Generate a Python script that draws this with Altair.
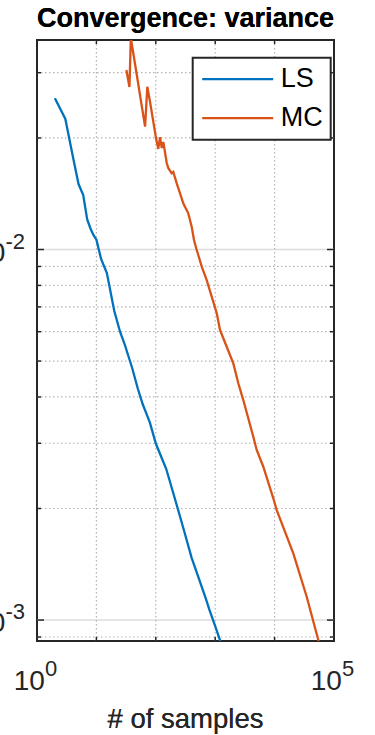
import altair as alt
import pandas as pd

# ---- data ---------------------------------------------------------------
ls_n = [2, 3, 4, 5, 6, 7, 8, 9, 10, 12, 15, 20, 25, 30, 40, 50, 60, 70, 80,
        100, 120, 150, 200, 250, 300, 400, 500, 600, 700, 800, 1000, 1200, 1500]
ls_var = [0.02559, 0.02250, 0.01788, 0.01502, 0.01403, 0.01205, 0.01136,
          0.01091, 0.01063, 0.009427, 0.008642, 0.006823, 0.005999, 0.005541,
          0.004788, 0.004202, 0.003828, 0.003597, 0.003401, 0.002995, 0.002789,
          0.002556, 0.002182, 0.001927, 0.001739, 0.001474, 0.001331, 0.001224,
          0.001139, 0.001065, 0.0009634, 0.0008847, 0.0007995]

mc_n = [32, 36, 38, 45, 66, 72, 80, 101, 110, 118, 126, 134, 153, 162, 185,
        197, 225, 256, 290, 352, 402, 440, 488, 519, 593, 719, 873, 1060, 1204,
        1562, 2017, 2448, 2972, 4379, 4995, 6454, 9508, 10850, 20640, 34710,
        54410, 70560]
mc_var = [0.03051, 0.02745, 0.0372, 0.03148, 0.02145, 0.02750, 0.02501,
          0.01995, 0.01868, 0.02011, 0.01879, 0.01950, 0.01709, 0.01660,
          0.01606, 0.01619, 0.01509, 0.01418, 0.01332, 0.01252, 0.01152,
          0.01061, 0.009969, 0.009664, 0.008987, 0.008274, 0.007458, 0.006741,
          0.006063, 0.005465, 0.004929, 0.004354, 0.003924, 0.003124, 0.002877,
          0.002593, 0.002131, 0.001981, 0.001514, 0.001156, 0.0008831, 0.0007558]

methods = ["LS", "MC"]
colors = ["#0072BD", "#D95319"]

x_domain = [1, 1e5]
y_domain = [8.78e-4, 0.03676]

x_major = [1, 1e5]
x_minor = [10, 100, 1000, 10000]
y_major = [1e-3, 1e-2]
y_minor = [9e-4, 2e-3, 3e-3, 4e-3, 5e-3, 6e-3, 7e-3, 8e-3, 9e-3, 2e-2, 3e-2]
x_exp = ["0", "5"]
y_exp = ["-3", "-2"]

# ---- layout -------------------------------------------------------------
W, H = 297, 601
FONT = "Liberation Sans"
AX = "#262626"

xs = alt.Scale(type="log", domain=x_domain, nice=False)
ys = alt.Scale(type="log", domain=y_domain, nice=False)

df = pd.concat([
    pd.DataFrame({"method": "LS", "n": ls_n, "v": ls_var}),
    pd.DataFrame({"method": "MC", "n": mc_n, "v": mc_var}),
])
ymaj = pd.DataFrame({"v": y_major, "e": y_exp})
ymin = pd.DataFrame({"v": y_minor})
xmin = pd.DataFrame({"n": x_minor})
xmaj = pd.DataFrame({"n": x_major, "e": x_exp})

X = lambda f: alt.X(f, type="quantitative", scale=xs, axis=None)
Y = lambda f: alt.Y(f, type="quantitative", scale=ys, axis=None)

# grid
grid_major = alt.Chart(ymaj).mark_rule(color="#dcdcdc", strokeWidth=1.5).encode(
    y=Y("v"), x=alt.value(0), x2=alt.value(W))
grid_minor_y = alt.Chart(ymin).mark_rule(
    color="#b4b4b4", strokeWidth=1.2, strokeDash=[1.5, 2.5]).encode(
    y=Y("v"), x=alt.value(0), x2=alt.value(W))
grid_minor_x = alt.Chart(xmin).mark_rule(
    color="#b4b4b4", strokeWidth=1.2, strokeDash=[1.5, 2.5]).encode(
    x=X("n"), y=alt.value(0), y2=alt.value(H))

# curves
lines = alt.Chart(df).mark_line(strokeWidth=2.3, clip=True).encode(
    x=X("n"), y=Y("v"),
    color=alt.Color("method:N",
                    scale=alt.Scale(domain=methods, range=colors),
                    legend=alt.Legend(
                        orient="none", legendX=155.7, legendY=17.7, title=None,
                        symbolType="stroke", symbolSize=5041,
                        symbolStrokeWidth=2.3, labelFontSize=27,
                        labelFont=FONT, labelColor="black", labelOffset=6,
                        clipHeight=27, padding=8, rowPadding=11,
                        fillColor="white", strokeColor=AX)),
)

# inward ticks on all four sides
def yticks(data, length):
    left = alt.Chart(data).mark_rule(color=AX, strokeWidth=1.5).encode(
        y=Y("v"), x=alt.value(0), x2=alt.value(length))
    right = alt.Chart(data).mark_rule(color=AX, strokeWidth=1.5).encode(
        y=Y("v"), x=alt.value(W), x2=alt.value(W - length))
    return left + right

xt_bottom = alt.Chart(xmin).mark_rule(color=AX, strokeWidth=1.5).encode(
    x=X("n"), y=alt.value(H), y2=alt.value(H - 4))
xt_top = alt.Chart(xmin).mark_rule(color=AX, strokeWidth=1.5).encode(
    x=X("n"), y=alt.value(0), y2=alt.value(4))

# tick labels: 10 with superscript exponent
xl_base = alt.Chart(xmaj).mark_text(
    text="10", font=FONT, fontSize=28, color=AX, align="left",
    baseline="alphabetic", dx=-23.3).encode(x=X("n"), y=alt.value(H + 49))
xl_exp = alt.Chart(xmaj).mark_text(
    font=FONT, fontSize=22, color=AX, align="left",
    baseline="alphabetic", dx=8).encode(x=X("n"), y=alt.value(H + 35), text="e:N")
yl_base = alt.Chart(ymaj).mark_text(
    text="10", font=FONT, fontSize=28, color=AX, align="right",
    baseline="alphabetic", dy=12).encode(y=Y("v"), x=alt.value(-31.6))
yl_exp = alt.Chart(ymaj).mark_text(
    font=FONT, fontSize=22, color=AX, align="right",
    baseline="alphabetic", dy=-1).encode(y=Y("v"), x=alt.value(-12), text="e:N")

title = alt.Chart(xmaj).mark_text(
    text="Convergence: variance", font=FONT, fontSize=27, fontWeight="bold",
    color="black", align="center", baseline="alphabetic").encode(
    x=alt.value(W / 2), y=alt.value(-13))
xlabel = alt.Chart(xmaj).mark_text(
    text="# of samples", font=FONT, fontSize=27.5, color=AX, align="center",
    baseline="alphabetic").encode(x=alt.value(W / 2), y=alt.value(H + 87))

chart = alt.layer(
    grid_major, grid_minor_y, grid_minor_x, lines,
    yticks(ymaj, 7), yticks(ymin, 4), xt_bottom, xt_top,
    xl_base, xl_exp, yl_base, yl_exp, title, xlabel,
).properties(
    width=W, height=H,
    autosize=alt.AutoSizeParams(type="none"),
    padding={"left": 37, "top": 40, "right": 41, "bottom": 94},
).configure_view(
    stroke=AX, strokeWidth=2
).configure_legend(
    strokeWidth=2
)

chart.save("out.html", embed_options={"renderer": "svg", "actions": False})
